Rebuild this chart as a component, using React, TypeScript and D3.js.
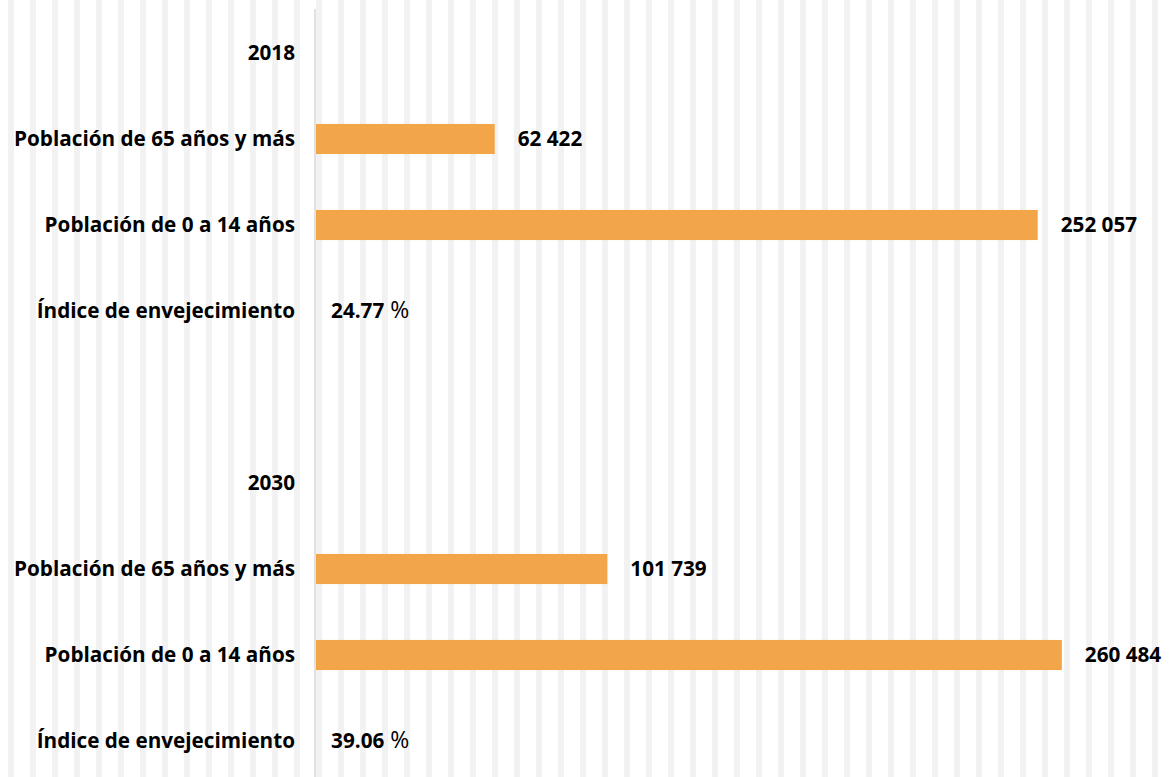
import { useEffect, useRef } from "react";
import * as d3 from "d3";

const years = ["2018", "2030"];
const pop65 = [62422, 101739];
const pop014 = [252057, 260484];
const agingIndex = [24.77, 39.06];

const LABEL_65 = "Población de 65 años y más";
const LABEL_014 = "Población de 0 a 14 años";
const LABEL_IDX = "Índice de envejecimiento";

type Row = { key: string; label: string; value: number | null; kind: "year" | "pop" | "idx" | "gap" };

export default function App() {
  const svgRef = useRef<SVGSVGElement | null>(null);
  const W = 1170;
  const H = 777;

  useEffect(() => {
    document.body.style.margin = "0";
    if (!svgRef.current) return;
    const svg = d3.select(svgRef.current);
    svg.selectAll("*").remove();

    // build rows from the data
    const rows: Row[] = [];
    years.forEach((yr, i) => {
      if (i > 0) rows.push({ key: `gap${i}`, label: "", value: null, kind: "gap" });
      rows.push({ key: `y${i}`, label: yr, value: null, kind: "year" });
      rows.push({ key: `a${i}`, label: LABEL_65, value: pop65[i], kind: "pop" });
      rows.push({ key: `b${i}`, label: LABEL_014, value: pop014[i], kind: "pop" });
      rows.push({ key: `c${i}`, label: LABEL_IDX, value: agingIndex[i], kind: "idx" });
    });

    const x0 = 316;
    const x = d3.scaleLinear().domain([0, 300000]).range([x0, x0 + 859]);
    const y = d3
      .scaleBand<string>()
      .domain(rows.map((r) => r.key))
      .range([10, 784])
      .paddingInner(0.65)
      .paddingOuter(0.325);

    // striped background
    const defs = svg.append("defs");
    const pat = defs
      .append("pattern")
      .attr("id", "stripes")
      .attr("patternUnits", "userSpaceOnUse")
      .attr("x", 8)
      .attr("y", 0)
      .attr("width", 22)
      .attr("height", 10);
    pat.append("rect").attr("width", 6).attr("height", 10).attr("fill", "#f2f2f2");
    svg.append("rect").attr("width", W).attr("height", H).attr("fill", "#ffffff");
    svg.append("rect").attr("x", 8).attr("width", W - 8).attr("height", H).attr("fill", "url(#stripes)");

    // axis line
    svg
      .append("line")
      .attr("x1", x(0) - 1)
      .attr("x2", x(0) - 1)
      .attr("y1", 9)
      .attr("y2", H)
      .attr("stroke", "#d9d9d9")
      .attr("stroke-width", 1.5);

    const font = "'Open Sans', 'Noto Sans', sans-serif";
    const fs = 20.7;

    // category labels
    svg
      .append("g")
      .selectAll("text")
      .data(rows.filter((r) => r.label))
      .join("text")
      .attr("x", x(0) - 21)
      .attr("y", (d) => y(d.key)! + y.bandwidth() / 2)
      .attr("dy", "0.36em")
      .attr("text-anchor", "end")
      .attr("font-family", font)
      .attr("font-weight", 700)
      .attr("font-size", fs)
      .attr("fill", "#000")
      .text((d) => d.label);

    // bars
    const barRows = rows.filter((r) => r.kind === "pop");
    svg
      .append("g")
      .selectAll("rect")
      .data(barRows)
      .join("rect")
      .attr("x", x(0))
      .attr("y", (d) => y(d.key)!)
      .attr("width", (d) => x(d.value!) - x(0))
      .attr("height", y.bandwidth())
      .attr("fill", "#f2a649");

    const fmt = (v: number) => d3.format(",")(v).replace(/,/g, " ");

    // value labels
    svg
      .append("g")
      .selectAll("text")
      .data(barRows)
      .join("text")
      .attr("x", (d) => x(d.value!) + 23)
      .attr("y", (d) => y(d.key)! + y.bandwidth() / 2)
      .attr("dy", "0.36em")
      .attr("font-family", font)
      .attr("font-weight", 700)
      .attr("font-size", fs)
      .attr("fill", "#000")
      .text((d) => fmt(d.value!));

    const idx = svg
      .append("g")
      .selectAll("text")
      .data(rows.filter((r) => r.kind === "idx"))
      .join("text")
      .attr("x", (d) => x(d.value!) + 15)
      .attr("y", (d) => y(d.key)! + y.bandwidth() / 2)
      .attr("dy", "0.36em")
      .attr("font-family", font)
      .attr("font-size", fs)
      .attr("fill", "#000");
    idx.append("tspan").attr("font-weight", 700).text((d) => d.value!.toFixed(2));
    idx.append("tspan").attr("font-weight", 400).attr("font-size", 23).text(" %");
  }, []);

  return <svg ref={svgRef} width={W} height={H} style={{ display: "block" }} />;
}
